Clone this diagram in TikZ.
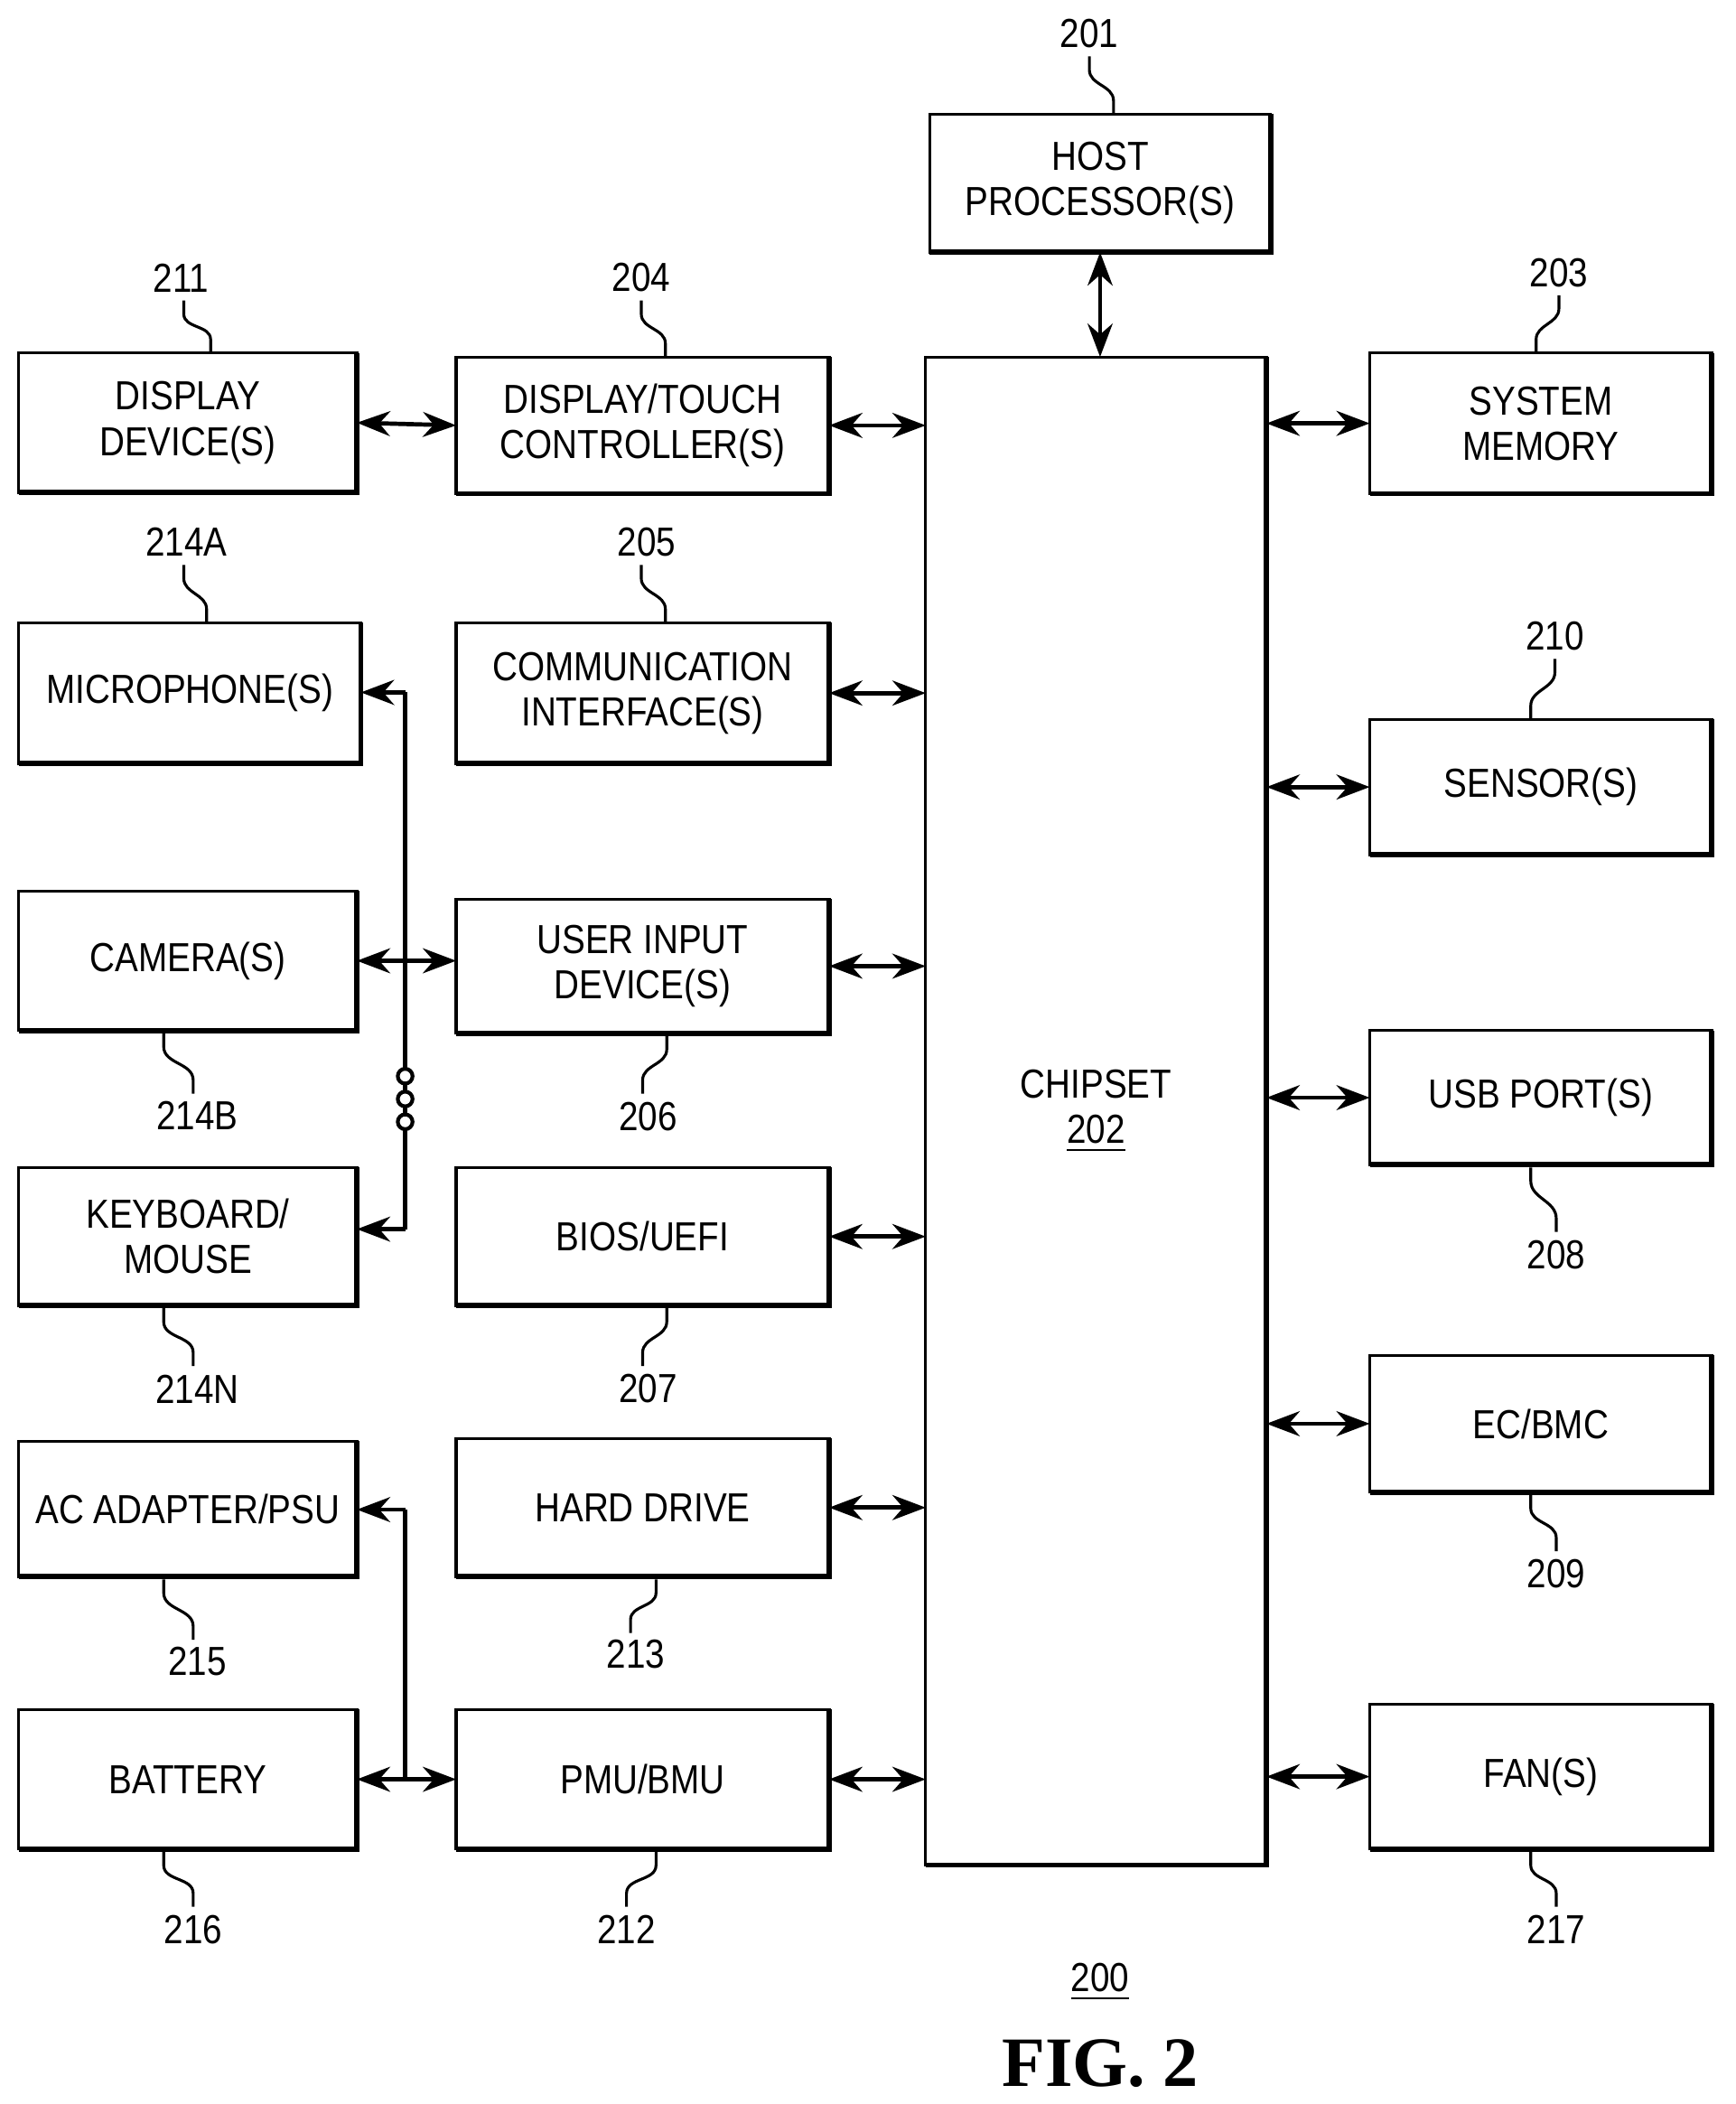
\documentclass[tikz,border=0pt]{standalone}
\usepackage{fontspec}
\setmainfont[FakeStretch=0.86]{Liberation Sans}
\newfontfamily\serifb{Liberation Serif}
\usetikzlibrary{calc,arrows.meta}
\begin{document}
\begin{tikzpicture}[x={(0.01cm,0)},y={(0,-0.01cm)},
 box/.style={draw,line width=0.6pt,inner sep=0pt,outer sep=0pt,align=center,font=\fontsize{8.6}{9.6}\selectfont},
 shadow/.style={line width=1.1pt},
 arr/.style={Stealth-Stealth,line width=0.9pt},
 arr1/.style={-Stealth,line width=0.9pt},
 bus/.style={line width=0.9pt},
 lead/.style={line width=0.6pt},
 lbl/.style={font=\fontsize{8.6}{9.6}\selectfont}]
\useasboundingbox (0,0) rectangle (1294,1568);
\newcommand\bx[6]{\pgfmathsetmacro\bw{(#4-#2)*0.01}\pgfmathsetmacro\bh{(#5-#3)*0.01}%
\node[box,minimum width=\bw cm,minimum height=\bh cm] (#1) at ({(#2+#4)/2},{(#3+#5)/2}) {#6};%
\draw[shadow] ($(#1.south west)+(0.04,-0.03)$) -- ($(#1.south east)+(0.03,-0.03)$) -- ($(#1.north east)+(0.03,-0.04)$);}
\newcommand\ld[5]{\node[lbl] (l#1) at (#2) {#1};\draw[lead] (#3) -- ++(0,#5) to[out=-90,in=90] ($(#4)-(0,#5)$) -- (#4);}
\bx{host}{693}{85}{947}{188}{HOST\\PROCESSOR(S)}
\bx{chip}{690}{266}{944}{1390}{CHIPSET\\\underline{202}}
\bx{disp}{14}{263}{266}{367}{DISPLAY\\DEVICE(S)}
\bx{ctrl}{340}{266}{618}{368}{DISPLAY/TOUCH\\CONTROLLER(S)}
\bx{mem}{1021}{263}{1276}{368}{SYSTEM\\MEMORY}
\bx{mic}{14}{464}{269}{569}{MICROPHONE(S)}
\bx{comm}{340}{464}{618}{569}{COMMUNICATION\\INTERFACE(S)}
\bx{sens}{1021}{536}{1276}{637}{SENSOR(S)}
\bx{cam}{14}{664}{266}{768}{CAMERA(S)}
\bx{uid}{340}{670}{618}{770}{USER INPUT\\DEVICE(S)}
\bx{usb}{1021}{768}{1276}{868}{USB PORT(S)}
\bx{kbd}{14}{870}{266}{973}{KEYBOARD/\\MOUSE}
\bx{bios}{340}{870}{618}{973}{BIOS/UEFI}
\bx{ec}{1021}{1010}{1276}{1112}{EC/BMC}
\bx{ac}{14}{1074}{266}{1175}{AC ADAPTER/PSU}
\bx{hd}{340}{1072}{618}{1175}{HARD DRIVE}
\bx{bat}{14}{1274}{266}{1378}{BATTERY}
\bx{pmu}{340}{1274}{618}{1378}{PMU/BMU}
\bx{fan}{1021}{1270}{1276}{1378}{FAN(S)}
% arrows
\draw[arr] (host.south) -- (host.south |- chip.north);
\draw[arr] (disp.east) -- (ctrl.west);
\foreach \n in {ctrl,comm,uid,bios,hd,pmu}{\draw[arr] (\n.east) -- (\n.east -| chip.west);}
\foreach \n in {mem,sens,usb,ec,fan}{\draw[arr] (\n.west -| chip.east) -- (\n.west);}
\draw[arr] (cam.east) -- (uid.west |- cam.east);
\coordinate (m1) at (302,516); \coordinate (m2) at (302,916);
\draw[bus] (m1) -- (m2);
\draw[arr1] (m1) -- (mic.east |- m1);
\draw[arr1] (m2) -- (kbd.east |- m2);
\foreach \yy in {802,819,836}{\draw[line width=0.8pt,fill=white] (302,\yy) circle (0.055cm);}
\coordinate (p1) at (302,1125);
\draw[bus] (p1) -- (302,1326);
\draw[arr1] (p1) -- (ac.east |- p1);
\draw[arr] (bat.east) -- (pmu.west);
% leaders
\ld{201}{812,25}{812,42}{830,85}{10}
\ld{211}{135,207}{137,224}{157,263}{10}
\ld{204}{478,207}{478,224}{496,266}{10}
\ld{203}{1162,203}{1162,220}{1145,263}{10}
\ld{214A}{139,404}{137,421}{154,464}{10}
\ld{205}{482,404}{478,421}{496,464}{10}
\ld{210}{1159,474}{1159,491}{1141,536}{10}
\ld{214B}{147,831}{122,770}{144,815}{10}
\ld{206}{483,832}{497,772}{479,815}{10}
\ld{208}{1160,935}{1141,870}{1160,918}{10}
\ld{214N}{147,1035}{122,975}{144,1018}{10}
\ld{207}{483,1035}{497,975}{479,1018}{10}
\ld{209}{1160,1173}{1141,1114}{1160,1156}{10}
\ld{215}{147,1238}{122,1177}{144,1222}{10}
\ld{213}{474,1233}{489,1177}{470,1217}{10}
\ld{216}{144,1438}{122,1380}{144,1421}{10}
\ld{212}{467,1438}{489,1380}{467,1421}{10}
\ld{217}{1160,1438}{1141,1380}{1160,1421}{10}
\node[lbl] (l200) at (820,1477) {\underline{200}};
\node[font=\serifb\bfseries\fontsize{15}{18}\selectfont] (fig) at (820,1538) {FIG. 2};
\end{tikzpicture}
\end{document}
